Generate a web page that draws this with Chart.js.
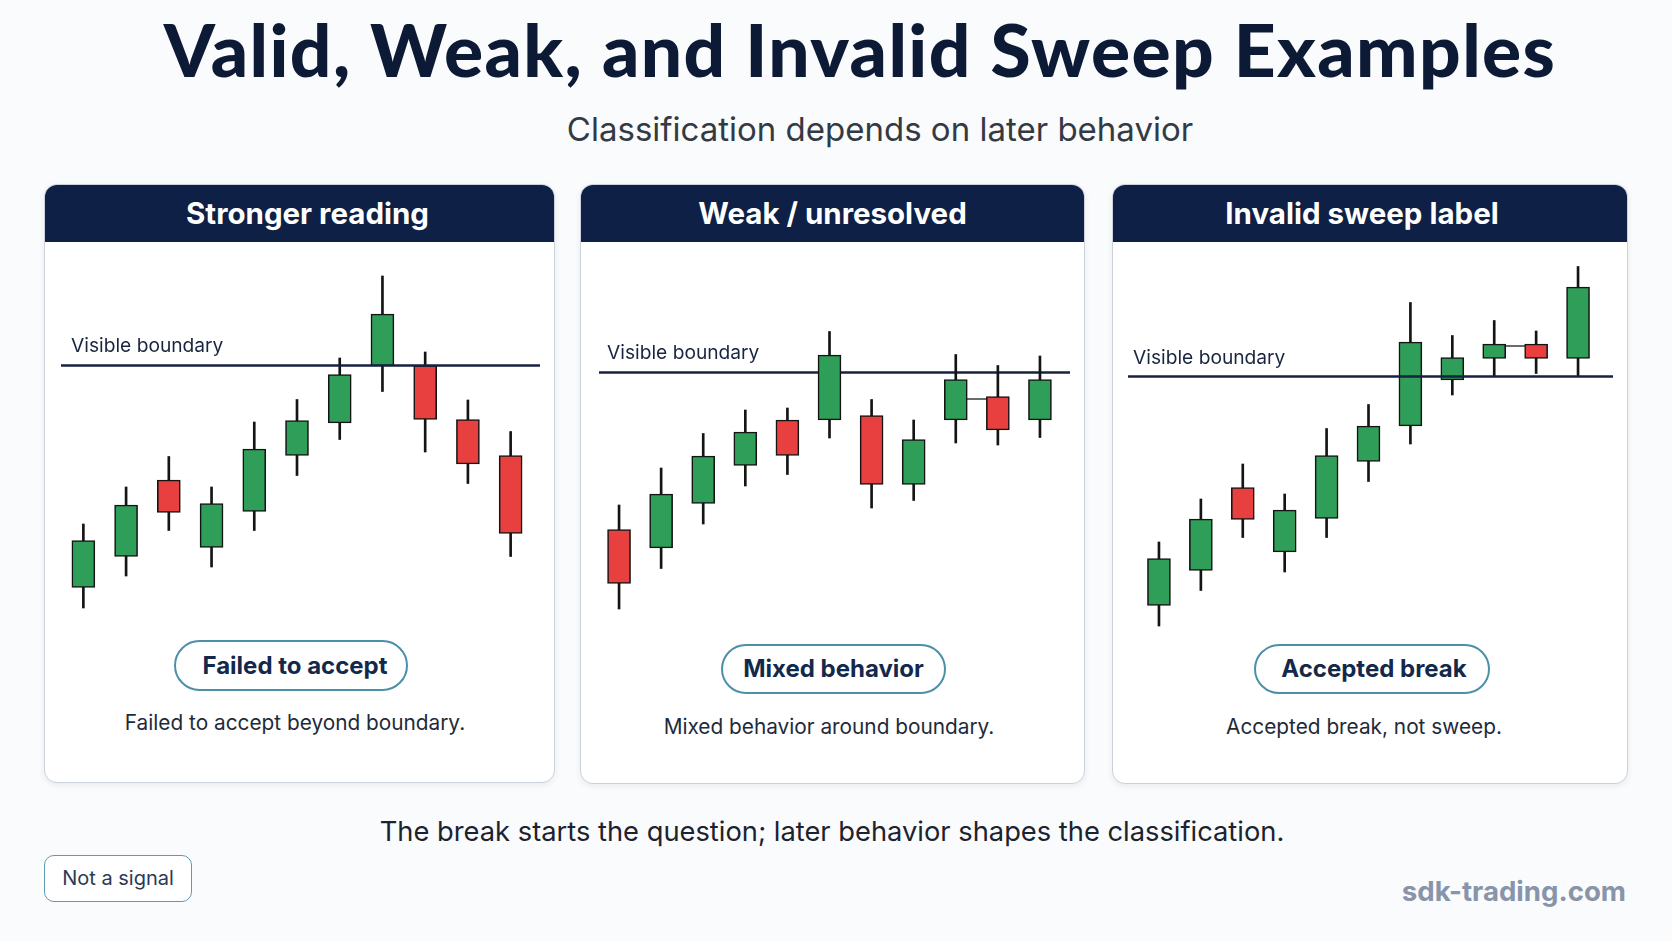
<!DOCTYPE html>
<html>
<head>
<meta charset="utf-8">
<script src="https://cdn.jsdelivr.net/npm/chart.js@4.4.1/dist/chart.umd.min.js"></script>
<style>
  html, body { margin: 0; padding: 0; }
  body { width: 1672px; height: 941px; background: #fafbfc; position: relative; overflow: hidden;
         font-family: Inter, Lato, "Noto Sans", sans-serif; }
  .abs { position: absolute; }
  #title { left: 24px; width: 1672px; top: 4px; text-align: center; font-family: Lato, Inter, sans-serif; font-weight: 900;
           font-size: 73px; letter-spacing: 1.4px; line-height: 90px; color: #0c1a36; white-space: nowrap; }
  #subtitle { left: 44px; width: 1672px; top: 109px; text-align: center; font-size: 33px; line-height: 40px;
              color: #333a44; white-space: nowrap; }
  .panel { background: #ffffff; border: 1.5px solid #cbd2dc; border-radius: 13px; box-sizing: border-box;
           box-shadow: 0 2px 6px rgba(30,40,60,0.08); overflow: hidden; }
  .phead { position: absolute; left: 0; top: 0; right: 0; height: 57px; color: #fff;
           font-weight: 700; font-size: 29.5px; line-height: 57px; text-align: center; white-space: nowrap; }
  .vb { font-size: 19.2px; color: #1a2540; line-height: 24px; white-space: nowrap; }
  .badge { border: 2px solid #4b8fa8; border-radius: 26px; box-sizing: border-box; background: #fff;
           color: #13294b; font-weight: 700; font-size: 24px; text-align: center; white-space: nowrap; }
  .cap { font-size: 20.8px; color: #1e2a3a; text-align: center; white-space: nowrap; line-height: 28px; }
  #footer { left: -4px; width: 1672px; top: 815px; text-align: center; font-size: 27.3px; line-height: 34px;
            color: #1c2330; white-space: nowrap; }
  #notsig { left: 44px; top: 855px; width: 148px; height: 47px; border: 1.6px solid #5d9bb5; border-radius: 10px;
            box-sizing: border-box; background: #fff; color: #2b3a55; font-size: 20px; line-height: 44px;
            text-align: center; white-space: nowrap; }
  #brand { right: 46px; top: 874px; font-weight: 700; font-size: 27.6px; line-height: 34px; color: #8794a9;
           white-space: nowrap; }
  .cw { position: absolute; }
</style>
</head>
<body>
<script>
// ---------------- DATA ----------------
const candleLabels = ['1','2','3','4','5','6','7','8','9','10','11'];

const boundaryStrong = 100;
const strongOpen  = [55.6, 61.8, 77.1, 63.6, 70.8, 82.0, 88.5,  99.9, 100.0, 89.2, 82.0];
const strongHigh  = [68.3, 75.7, 81.8, 75.7, 88.7, 93.2, 101.5, 117.9, 102.7, 93.1, 86.8];
const strongLow   = [51.5, 57.9, 67.0, 59.7, 67.0, 78.0, 85.2,  94.8,  82.7, 76.4, 61.8];
const strongClose = [65.0, 72.1, 70.6, 72.4, 83.3, 89.0, 98.2, 110.3,  89.2, 80.3, 66.4];

const boundaryWeak = 100;
const weakOpen  = [68.6, 64.9, 73.8, 81.4, 90.5,  90.5, 91.4, 77.6, 90.5,  95.2, 90.5];
const weakHigh  = [73.5, 80.9, 87.8, 92.5, 92.9, 108.2, 94.6, 90.5, 103.6, 101.4, 103.3];
const weakLow   = [52.7, 60.8, 69.7, 77.3, 79.6,  86.9, 72.9, 74.4, 85.9,  85.5, 87.0];
const weakClose = [57.8, 75.7, 83.3, 88.1, 83.4, 103.5, 77.6, 86.6, 98.6,  88.5, 98.6];
const weakConnector = [null, null, null, null, null, null, null, null, 94.7, 94.7, null];

const boundaryInvalid = 100;
const invalidOpen  = [54.2, 61.2, 77.8, 64.9, 71.6, 83.0,  90.1,  99.3, 103.6, 106.5, 103.6];
const invalidHigh  = [66.9, 75.5, 82.5, 76.5, 89.6, 94.4, 114.8, 108.2, 111.2, 109.1, 122.0];
const invalidLow   = [50.1, 57.2, 67.8, 60.9, 67.8, 79.0,  86.5,  96.3, 100.1, 100.6, 100.1];
const invalidClose = [63.6, 71.5, 71.4, 73.3, 84.2, 90.1, 106.9, 103.8, 106.5, 103.6, 117.9];
const invalidConnector = [null, null, null, null, null, null, null, null, 106.1, 106.1, null];

const panelTitles   = ['Stronger reading', 'Weak / unresolved', 'Invalid sweep label'];
const badgeTexts    = ['Failed to accept', 'Mixed behavior', 'Accepted break'];
const captionTexts  = ['Failed to accept beyond boundary.', 'Mixed behavior around boundary.', 'Accepted break, not sweep.'];
const boundaryLabel = 'Visible boundary';

// ---------------- LAYOUT / STYLE ----------------
const GREEN = '#2f9e58', RED = '#e8403f', EDGE = '#141414';
const layouts = [
  { panel: [44, 184, 511, 599], headShift: 8,
    chart: { left: 56, top: 250, width: 490, height: 390, padL: 6, padR: 14, extL: -1, extR: 8, yMin: 45.1, yMax: 123.1 },
    vb: [71, 333], badge: [174, 640, 234, 51], badgePad: 8, cap: [295, 709], lineOnTop: true },
  { panel: [580, 184, 505, 600], headShift: 0,
    chart: { left: 592, top: 250, width: 486, height: 390, padL: 6, padR: 17, extL: 1, extR: 9, yMin: 46.5, yMax: 124.5 },
    vb: [607, 340], badge: [721, 644, 225, 50], badgePad: 0, cap: [829, 713], lineOnTop: false },
  { panel: [1112, 184, 516, 600], headShift: -8,
    chart: { left: 1122, top: 250, width: 498, height: 390, padL: 16, padR: 21, extL: -10, extR: 14, yMin: 47.3, yMax: 125.3 },
    vb: [1133, 345], badge: [1254, 644, 236, 50], badgePad: 4, cap: [1364, 713], lineOnTop: true }
];

function el(tag, cls, style, text) {
  const e = document.createElement(tag);
  if (cls) e.className = cls;
  Object.assign(e.style, style || {});
  if (text != null) e.textContent = text;
  document.body.appendChild(e);
  return e;
}

el('div', 'abs', {}, 'Valid, Weak, and Invalid Sweep Examples').id = 'title';
el('div', 'abs', {}, 'Classification depends on later behavior').id = 'subtitle';

const series = [
  { o: strongOpen, h: strongHigh, l: strongLow, c: strongClose, b: boundaryStrong, conn: null },
  { o: weakOpen, h: weakHigh, l: weakLow, c: weakClose, b: boundaryWeak, conn: weakConnector },
  { o: invalidOpen, h: invalidHigh, l: invalidLow, c: invalidClose, b: boundaryInvalid, conn: invalidConnector }
];

const boundaryPlugin = {
  id: 'boundaryLine',
  _draw(chart) {
    const o = chart.options.plugins.boundaryLine;
    const y = chart.scales.y.getPixelForValue(o.value);
    const ctx = chart.ctx;
    ctx.save();
    ctx.strokeStyle = '#16223f';
    ctx.lineWidth = 2.4;
    ctx.beginPath();
    ctx.moveTo(chart.chartArea.left + o.extL, y);
    ctx.lineTo(chart.chartArea.right + o.extR, y);
    ctx.stroke();
    ctx.restore();
  },
  beforeDatasetsDraw(chart) { if (!chart.options.plugins.boundaryLine.onTop) this._draw(chart); },
  afterDatasetsDraw(chart) { if (chart.options.plugins.boundaryLine.onTop) this._draw(chart); }
};

layouts.forEach((L, i) => {
  const p = el('div', 'abs panel', { left: L.panel[0] + 'px', top: L.panel[1] + 'px', width: L.panel[2] + 'px', height: L.panel[3] + 'px' });
  const hbg = document.createElement('div');
  Object.assign(hbg.style, { position: 'absolute', left: '0', right: '0', top: '0', height: '57px', background: '#0e2045' });
  p.appendChild(hbg);
  const hd = document.createElement('div'); hd.className = 'phead'; hd.textContent = panelTitles[i];
  if (L.headShift >= 0) { hd.style.left = (L.headShift * 2) + 'px'; hd.style.right = '0px'; }
  else { hd.style.left = '0px'; hd.style.right = (-L.headShift * 2) + 'px'; }
  p.appendChild(hd);

  const wrap = el('div', 'cw', { left: L.chart.left + 'px', top: L.chart.top + 'px', width: L.chart.width + 'px', height: L.chart.height + 'px' });
  const cv = document.createElement('canvas'); wrap.appendChild(cv);

  el('div', 'abs vb', { left: L.vb[0] + 'px', top: L.vb[1] + 'px' }, boundaryLabel);
  el('div', 'abs badge', { left: L.badge[0] + 'px', top: L.badge[1] + 'px', width: L.badge[2] + 'px', height: L.badge[3] + 'px',
     lineHeight: (L.badge[3] - 4) + 'px', paddingLeft: L.badgePad + 'px' }, badgeTexts[i]);
  el('div', 'abs cap', { left: (L.cap[0] - 250) + 'px', top: L.cap[1] + 'px', width: '500px' }, captionTexts[i]);

  const S = series[i];
  const datasets = [
    { type: 'bar', label: 'body', data: S.o.map((v, k) => [v, S.c[k]]),
      backgroundColor: S.o.map((v, k) => S.c[k] >= v ? GREEN : RED),
      borderColor: EDGE, borderWidth: 1.6, borderSkipped: false, barThickness: 23, grouped: false, order: 0 },
    { type: 'bar', label: 'wick', data: S.l.map((v, k) => [v, S.h[k]]),
      backgroundColor: EDGE, borderWidth: 0, barThickness: 2, grouped: false, order: 2 }
  ];
  if (S.conn) datasets.push({ type: 'line', label: 'conn', data: S.conn, borderColor: '#3a3a3a', borderWidth: 1.6,
      pointRadius: 0, spanGaps: false, order: 1 });

  new Chart(cv, {
    data: { labels: candleLabels, datasets },
    options: {
      responsive: true, maintainAspectRatio: false, animation: false,
      layout: { padding: { left: L.chart.padL, right: L.chart.padR, top: 0, bottom: 0 } },
      scales: {
        x: { display: false, offset: true },
        y: { display: false, min: L.chart.yMin, max: L.chart.yMax }
      },
      plugins: {
        legend: { display: false }, tooltip: { enabled: false },
        boundaryLine: { value: S.b, extL: L.chart.extL, extR: L.chart.extR, onTop: L.lineOnTop }
      }
    },
    plugins: [boundaryPlugin]
  });
});

el('div', 'abs', {}, 'The break starts the question; later behavior shapes the classification.').id = 'footer';
el('div', 'abs', {}, 'Not a signal').id = 'notsig';
el('div', 'abs', {}, 'sdk-trading.com').id = 'brand';
</script>
</body>
</html>
